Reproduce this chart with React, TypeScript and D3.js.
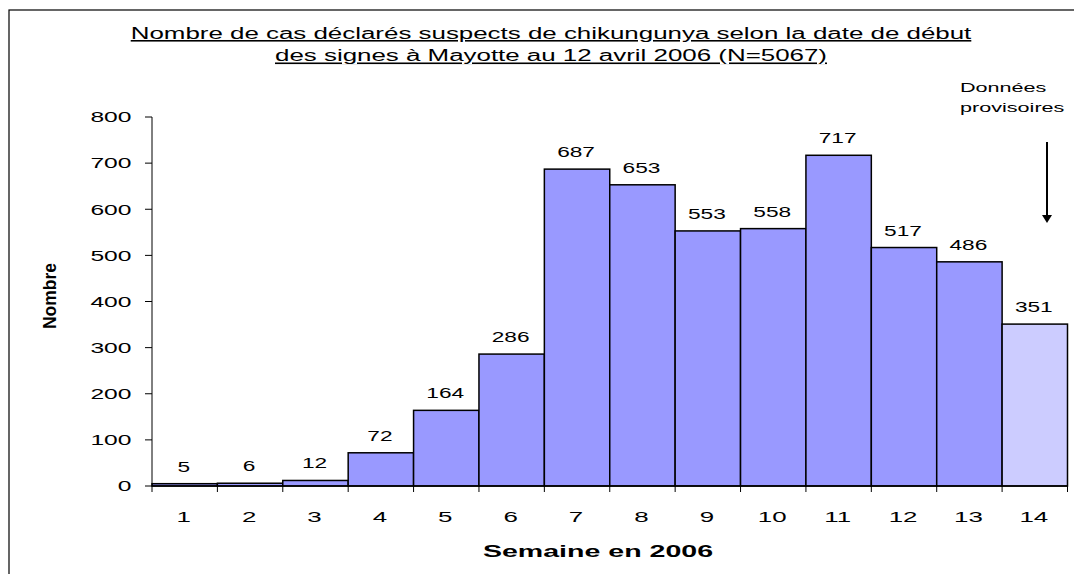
import React from "react";
import * as d3 from "d3";

const weeks = ["1","2","3","4","5","6","7","8","9","10","11","12","13","14"];
const counts = [5, 6, 12, 72, 164, 286, 687, 653, 553, 558, 717, 517, 486, 351];
const provisional = [false,false,false,false,false,false,false,false,false,false,false,false,false,true];
const yTicks = [0, 100, 200, 300, 400, 500, 600, 700, 800];
const titleLines = [
  "Nombre de cas déclarés suspects de chikungunya selon la date de début",
  "des signes à Mayotte au 12 avril 2006 (N=5067)",
];
const annotationLines = ["Données", "provisoires"];
const xTitle = "Semaine en 2006";
const yTitle = "Nombre";

const W = 1074, H = 574;
const left = 152, right = 1067.5, top = 117, bottom = 486;
const font = "'Liberation Sans', Arial, sans-serif";

type TProps = { x: number; y: number; sx: number; size: number; anchor?: string; bold?: boolean; underline?: boolean; children: React.ReactNode };
function T({ x, y, sx, size, anchor = "middle", bold, underline, children }: TProps) {
  return (
    <text transform={`translate(${x},${y}) scale(${sx},1)`} textAnchor={anchor} fontSize={size}
      fontWeight={bold ? "bold" : "normal"} textDecoration={underline ? "underline" : undefined}>
      {children}
    </text>
  );
}

export default function App() {
  const x = d3.scaleBand<string>().domain(weeks).range([left, right]).padding(0);
  const y = d3.scaleLinear().domain([0, 800]).range([bottom, top]);
  const bw = x.bandwidth();
  const ax = 1047;
  return (
    <svg width={W} height={H} style={{ position: "absolute", left: 0, top: 0 }} fontFamily={font}>
      <rect x={0} y={0} width={W} height={H} fill="#fff" />
      <rect x={9} y={10} width={W + 10} height={H + 10} fill="none" stroke="#000" strokeWidth={1.2} />
      {titleLines.map((t, i) => (
        <T key={i} x={551} y={38.5 + i * 22.5} sx={1.62} size={16} underline>{t}</T>
      ))}
      {annotationLines.map((t, i) => (
        <T key={i} x={960} y={92 + i * 20} sx={1.6} size={13.5} anchor="start">{t}</T>
      ))}
      <line x1={ax} x2={ax} y1={142} y2={216} stroke="#000" strokeWidth={2} />
      <path d={`M${ax - 5},${215} L${ax + 5},${215} L${ax},${223} Z`} fill="#000" />
      {weeks.map((w, i) => (
        <rect key={w} x={x(w)!} y={y(counts[i])} width={bw} height={bottom - y(counts[i])}
          fill={provisional[i] ? "#CCCCFF" : "#9999FF"} stroke="#000" strokeWidth={1.5} />
      ))}
      {weeks.map((w, i) => (
        <T key={w} x={x(w)! + bw / 2 - 1} y={y(counts[i]) - 12} sx={1.62} size={14}>{counts[i]}</T>
      ))}
      <line x1={left} x2={left} y1={top} y2={bottom} stroke="#000" strokeWidth={1} />
      {yTicks.map((t) => (
        <g key={t}>
          <line x1={145} x2={left} y1={y(t)} y2={y(t)} stroke="#000" strokeWidth={1} />
          <T x={131.5} y={y(t) + 5.3} sx={1.7} size={14.5} anchor="end">{t}</T>
        </g>
      ))}
      <line x1={left} x2={right} y1={bottom} y2={bottom} stroke="#000" strokeWidth={1.5} />
      {[...weeks.map((w) => x(w)!), right].map((p, i) => (
        <line key={i} x1={p} x2={p} y1={bottom} y2={bottom + 6} stroke="#000" strokeWidth={1} />
      ))}
      {weeks.map((w) => (
        <T key={w} x={x(w)! + bw / 2 - 1} y={521.7} sx={1.85} size={14}>{w}</T>
      ))}
      <T x={598} y={557} sx={1.68} size={17} bold>{xTitle}</T>
      <text transform="translate(56,296) rotate(-90)" textAnchor="middle" fontSize={19} fontWeight="bold"
        textLength={66} lengthAdjust="spacingAndGlyphs">{yTitle}</text>
    </svg>
  );
}
